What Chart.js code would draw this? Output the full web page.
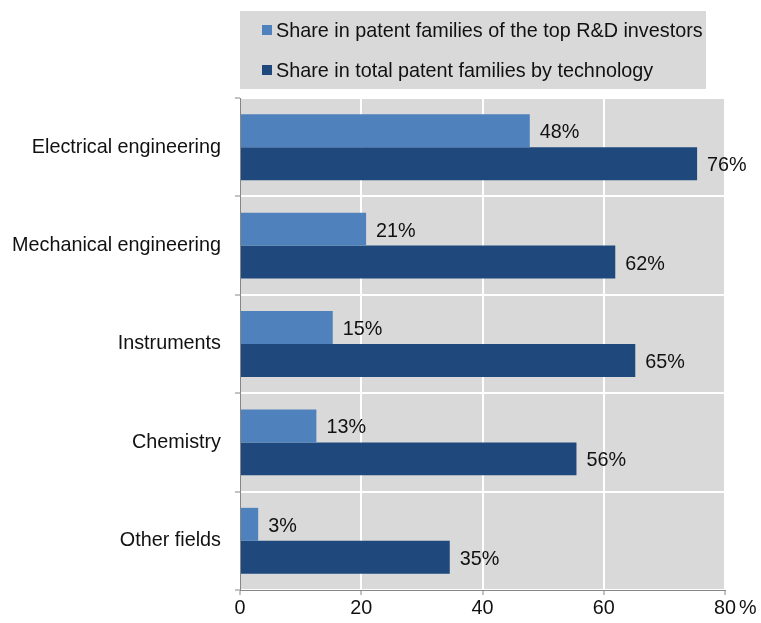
<!DOCTYPE html>
<html>
<head>
<meta charset="utf-8">
<script src="https://cdn.jsdelivr.net/npm/chart.js@4"></script>
<style>
html, body { margin: 0; padding: 0; background: #fff; }
#wrap { width: 761px; height: 623px; }
</style>
</head>
<body>
<div id="wrap"><canvas id="patentChart" width="761" height="623"></canvas></div>
<script>
const categories = ["Electrical engineering", "Mechanical engineering", "Instruments", "Chemistry", "Other fields"];
const seriesNames = ["Share in patent families of the top R&D investors", "Share in total patent families by technology"];
const topInvestors = [47.8, 20.8, 15.3, 12.6, 3.0];
const totalFamilies = [75.4, 61.9, 65.2, 55.5, 34.6];
const topLabels = ["48%", "21%", "15%", "13%", "3%"];
const totalLabels = ["76%", "62%", "65%", "56%", "35%"];
const xTicks = [0, 20, 40, 60, 80];

const FONT = "Liberation Sans, Arial, sans-serif";
const FS = 19.8;
const GREY_BG = "#d9d9d9";
const AXIS = "#868686";

// grey plot background + legend box
const backdrop = {
  id: "backdrop",
  beforeDraw(chart) {
    const c = chart.ctx, a = chart.chartArea;
    c.save();
    c.fillStyle = GREY_BG;
    c.fillRect(a.left, a.top, a.right - a.left, a.bottom - a.top);
    // legend
    c.fillRect(240, 11, 466, 78);
    c.font = FS + "px " + FONT;
    c.textBaseline = "middle";
    c.textAlign = "left";
    const ys = [30, 70];
    chart.data.datasets.forEach((ds, i) => {
      c.fillStyle = ds.backgroundColor;
      c.fillRect(262, ys[i] - 5, 10, 10);
      c.fillStyle = "#111";
      c.fillText(ds.label, 276, ys[i] + 2);
    });
    c.restore();
  }
};

// value labels and the "%" unit
const valueLabels = {
  id: "valueLabels",
  afterDatasetsDraw(chart) {
    const c = chart.ctx;
    c.save();
    c.font = FS + "px " + FONT;
    c.fillStyle = "#111";
    c.textBaseline = "middle";
    c.textAlign = "left";
    const texts = [topLabels, totalLabels];
    chart.data.datasets.forEach((ds, i) => {
      chart.getDatasetMeta(i).data.forEach((bar, j) => {
        c.fillText(texts[i][j], bar.x + 10, bar.y + 2);
      });
    });
    const xs = chart.scales.x;
    c.fillText("%", xs.getPixelForValue(80) + 14, 609);
    c.restore();
  }
};

new Chart(document.getElementById("patentChart").getContext("2d"), {
  type: "bar",
  data: {
    labels: categories,
    datasets: [{
      label: seriesNames[0],
      data: topInvestors,
      backgroundColor: "#4f81bd",
      borderWidth: 0,
      categoryPercentage: 0.67,
      barPercentage: 1
    }, {
      label: seriesNames[1],
      data: totalFamilies,
      backgroundColor: "#1f497d",
      borderWidth: 0,
      categoryPercentage: 0.67,
      barPercentage: 1
    }]
  },
  options: {
    indexAxis: "y",
    responsive: false,
    animation: false,
    layout: { padding: { top: 98, right: 36, left: 0, bottom: 0 } },
    plugins: {
      legend: { display: false },
      tooltip: { enabled: false }
    },
    scales: {
      x: {
        min: 0,
        max: 80,
        afterBuildTicks(scale) { scale.ticks = xTicks.map(v => ({ value: v })); },
        afterFit(scale) { scale.height = 33; },
        grid: { color: "#ffffff", lineWidth: 2, tickColor: AXIS, tickLength: 5, tickWidth: 1 },
        border: { color: AXIS, width: 1 },
        ticks: { color: "#111", font: { family: FONT, size: FS }, padding: 2, maxRotation: 0 }
      },
      y: {
        afterFit(scale) { scale.width = 240; },
        grid: { color: "#ffffff", lineWidth: 2, tickColor: AXIS, tickLength: 5, tickWidth: 1, offset: true },
        border: { color: AXIS, width: 1 },
        ticks: { color: "#111", font: { family: FONT, size: FS }, padding: 14 }
      }
    }
  },
  plugins: [backdrop, valueLabels]
});
</script>
</body>
</html>
